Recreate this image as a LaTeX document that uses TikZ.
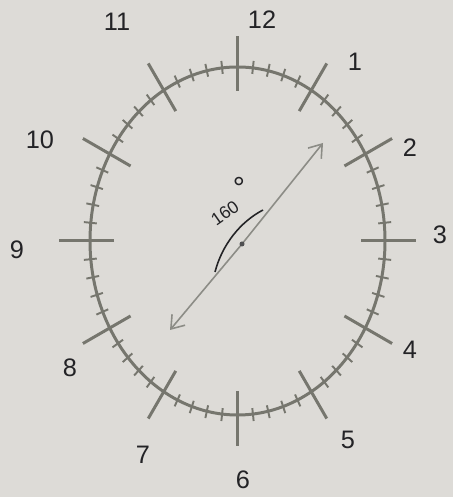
\documentclass[tikz,border=0pt]{standalone}
\usepackage{fontspec}
\setsansfont{Liberation Sans}
\usetikzlibrary{arrows.meta}
\definecolor{paper}{RGB}{221,219,215}
\definecolor{pencil}{RGB}{118,118,110}
\definecolor{handgray}{RGB}{140,140,134}
\definecolor{ink}{RGB}{35,35,38}
\tikzset{
  dial/.style={pencil,line width=1.7pt},
  hourtick/.style={pencil,line width=1.7pt},
  mintick/.style={pencil,line width=1.1pt},
  numlbl/.style={text=ink,font=\sffamily\Large},
  hand/.style={handgray,line width=0.9pt,-{Straight Barb[length=2.4mm,width=3.4mm]}}
}

\begin{document}
\begin{tikzpicture}
        \fill[paper] (0,0) rectangle (9.06,9.94);
        \useasboundingbox (0,0) rectangle (9.06,9.94);
        % dial
        \draw[dial] (4.75,5.12) ellipse (2.95 and 3.48);
        \foreach \m in {0,...,59}{
          \pgfmathsetmacro{\t}{90-6*\m}
          \draw[mintick] ({4.75+2.83*cos(\t)},{5.12+3.36*sin(\t)}) -- ({4.75+3.09*cos(\t)},{5.12+3.62*sin(\t)});
        }
        \foreach \h in {1,...,12}{
          \pgfmathsetmacro{\t}{90-30*\h}
          \draw[hourtick] ({4.75+2.47*cos(\t)},{5.12+3.0*sin(\t)}) -- ({4.75+3.57*cos(\t)},{5.12+4.1*sin(\t)});
        }
        % numbers
        \foreach \h/\x/\y in {12/5.24/9.54,1/7.10/8.70,2/8.20/6.98,3/8.80/5.24,4/8.20/2.94,5/6.96/1.14,
          6/4.86/0.34,7/2.86/0.84,8/1.40/2.58,9/0.34/4.94,10/0.80/7.14,11/2.34/9.50}
          \node[numlbl] (n\h) at (\x,\y) {\h};
        % hands
        \coordinate (hub) at (4.84,5.06);
        \coordinate (tipa) at (6.46,7.08);
        \coordinate (tipb) at (3.40,3.34);
        \draw[hand] (hub) -- (tipa);
        \draw[hand] (hub) -- (tipb);
        \fill[ink!80] (hub) circle (0.05);
        \draw[ink,line width=0.9pt] (5.26,5.74) .. controls (4.80,5.50) and (4.44,5.04) .. (4.30,4.50);
        \node[text=ink,font=\sffamily\normalsize,rotate=35,inner sep=1pt] (ang) at (4.50,5.68) {160};
        \node[text=ink,font=\sffamily\LARGE,inner sep=1pt] (deg) at (4.78,6.18) {°};
      \end{tikzpicture}
\end{document}
